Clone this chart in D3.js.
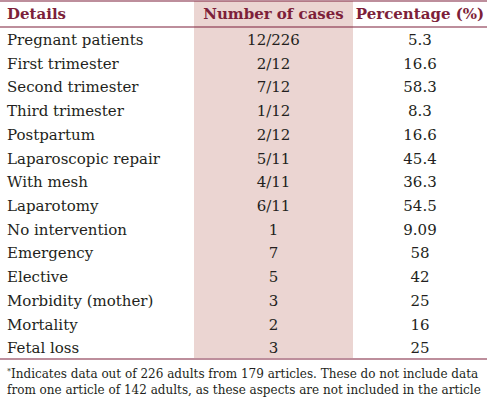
<!DOCTYPE html>
<html><head><meta charset="utf-8">
<script src="https://cdn.jsdelivr.net/npm/d3@7"></script>
<style>
html,body{margin:0;padding:0;background:#fff;}
svg{display:block;}
</style></head>
<body>
<div id="chart"></div>
<script>
const headers = ["Details", "Number of cases", "Percentage (%)"];
const details = ["Pregnant patients","First trimester","Second trimester","Third trimester","Postpartum","Laparoscopic repair","With mesh","Laparotomy","No intervention","Emergency","Elective","Morbidity (mother)","Mortality","Fetal loss"];
const cases = ["12/226","2/12","7/12","1/12","2/12","5/11","4/11","6/11","1","7","5","3","2","3"];
const percentages = ["5.3","16.6","58.3","8.3","16.6","45.4","36.3","54.5","9.09","58","42","25","16","25"];
const footnote = ["Indicates data out of 226 adults from 179 articles. These do not include data","from one article of 142 adults, as these aspects are not included in the article"];

const W = 487, H = 400;
const maroon = "#7d1f3a", shade = "#ebd5d2", ink = "#231f20";
const font = "'DejaVu Serif', serif";

const svg = d3.select("#chart").append("svg").attr("width", W).attr("height", H);

const y = d3.scaleBand().domain(details).range([27, 359]);
const colX = {details: 7, cases: 273.5, pct: 420};

// shaded column
svg.append("rect").attr("x", 194).attr("y", 1).attr("width", 159).attr("height", 358 - 1).attr("fill", shade);

// rules
svg.append("line").attr("x1", 0).attr("x2", W).attr("y1", 1).attr("y2", 1).attr("stroke", maroon).attr("stroke-width", 1.2);
svg.append("line").attr("x1", 0).attr("x2", W).attr("y1", 27).attr("y2", 27).attr("stroke", maroon).attr("stroke-width", 1.2);
svg.append("line").attr("x1", 0).attr("x2", W).attr("y1", 359).attr("y2", 359).attr("stroke", maroon).attr("stroke-width", 1.2);

// headers
const hx = [colX.details, colX.cases, colX.pct];
const ha = ["start", "middle", "middle"];
svg.selectAll("text.h").data(headers).join("text").attr("class", "h")
  .attr("x", (d, i) => hx[i]).attr("y", 19).attr("text-anchor", (d, i) => ha[i])
  .attr("font-family", font).attr("font-weight", "bold").attr("font-size", 15).attr("fill", maroon)
  .text(d => d);

const rows = details.map((d, i) => ({d, c: cases[i], p: percentages[i]}));
const g = svg.selectAll("g.row").data(rows).join("g").attr("class", "row")
  .attr("transform", r => `translate(0,${y(r.d) + 18})`);
const txt = (sel) => sel.attr("font-family", font).attr("font-size", 15).attr("fill", ink);
g.append("text").attr("x", colX.details).text(r => r.d).call(txt);
g.append("text").attr("x", colX.cases).attr("text-anchor", "middle").text(r => r.c).call(txt);
g.append("text").attr("x", colX.pct).attr("text-anchor", "middle").text(r => r.p).call(txt);

// footnote
const fn = svg.append("g").attr("font-family", font).attr("font-size", 12).attr("fill", ink);
const l1 = fn.append("text").attr("x", 7).attr("y", 378);
l1.append("tspan").attr("font-size", 8).attr("dy", -4).text("*");
l1.append("tspan").attr("dy", 4).text(footnote[0]);
fn.append("text").attr("x", 7).attr("y", 394).text(footnote[1]);
</script>
</body></html>
